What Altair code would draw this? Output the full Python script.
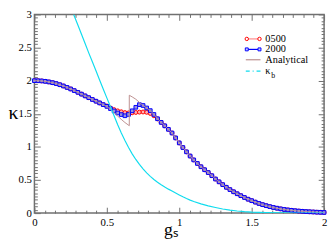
import altair as alt
import pandas as pd

FONT = "Liberation Serif"

# ---------------- data ----------------
g = [round(0.025 * i, 3) for i in range(81)]

k2000 = [2.000, 1.999, 1.996, 1.990, 1.981, 1.970, 1.956, 1.939, 1.920, 1.898,
         1.875, 1.850, 1.824, 1.797, 1.770, 1.743, 1.716, 1.690, 1.664, 1.638,
         1.612, 1.578, 1.543, 1.512, 1.488, 1.470, 1.490, 1.545, 1.598, 1.638,
         1.625, 1.588, 1.548, 1.490, 1.425, 1.370, 1.318, 1.265, 1.210, 1.135,
         1.060, 0.990, 0.925, 0.862, 0.803, 0.750, 0.700, 0.655, 0.612, 0.565,
         0.515, 0.472, 0.430, 0.390, 0.355, 0.322, 0.292, 0.263, 0.236, 0.210,
         0.188, 0.166, 0.146, 0.128, 0.112, 0.098, 0.085, 0.074, 0.064, 0.055,
         0.048, 0.042, 0.036, 0.031, 0.027, 0.023, 0.020, 0.017, 0.014, 0.012,
         0.010]

k0500 = [2.000, 1.999, 1.996, 1.990, 1.981, 1.970, 1.956, 1.939, 1.920, 1.898,
         1.875, 1.850, 1.824, 1.797, 1.770, 1.743, 1.716, 1.690, 1.664, 1.638,
         1.618, 1.588, 1.563, 1.544, 1.530, 1.518, 1.513, 1.515, 1.520, 1.525,
         1.527, 1.522, 1.505, 1.470, 1.422, 1.370, 1.318, 1.265, 1.210, 1.135,
         1.060, 0.990, 0.925, 0.862, 0.803, 0.750, 0.700, 0.655, 0.612, 0.565,
         0.515, 0.472, 0.430, 0.390, 0.355, 0.322, 0.292, 0.263, 0.236, 0.210,
         0.188, 0.166, 0.146, 0.128, 0.112, 0.098, 0.085, 0.074, 0.064, 0.055,
         0.048, 0.042, 0.036, 0.031, 0.027, 0.023, 0.020, 0.017, 0.014, 0.012,
         0.010]

# analytical curve: same as numerics away from the jump at g ~ 0.655
an_mid_g = [0.525, 0.55, 0.575, 0.6, 0.625, 0.655, 0.655, 0.675, 0.7, 0.725, 0.75]
an_mid_k = [1.565, 1.515, 1.465, 1.415, 1.368, 1.320, 1.780, 1.755, 1.720, 1.672, 1.625]
an_g = g[:21] + an_mid_g + g[31:]
an_k = k2000[:21] + an_mid_k + k2000[31:]

kb_g = [0.271, 0.3, 0.325, 0.35, 0.375, 0.4, 0.425, 0.45, 0.475, 0.5,
        0.525, 0.55, 0.575, 0.6, 0.625, 0.65, 0.675, 0.7, 0.725, 0.75,
        0.775, 0.8, 0.825, 0.85, 0.875, 0.9, 0.925, 0.95, 0.975, 1.0,
        1.025, 1.05, 1.075, 1.1, 1.15, 1.2, 1.25, 1.3, 1.35, 1.4,
        1.45, 1.5, 1.6, 1.7, 1.8, 2.0]
kb_k = [3.0, 2.84, 2.70, 2.56, 2.42, 2.285, 2.15, 2.01, 1.875, 1.74,
        1.605, 1.47, 1.335, 1.21, 1.095, 0.99, 0.895, 0.81, 0.735, 0.668,
        0.608, 0.555, 0.508, 0.465, 0.428, 0.394, 0.362, 0.333, 0.303, 0.274,
        0.246, 0.22, 0.196, 0.175, 0.14, 0.11, 0.085, 0.062, 0.045, 0.032,
        0.022, 0.015, 0.007, 0.003, 0.0015, 0.0005]

legend_names = ["0500", "2000", "Analytical", "κ"]

X_TICKS = [round(i * 0.5 / 7, 5) for i in range(29)]
Y_TICKS = [round(i * 0.05, 3) for i in range(61)]
X_MAJOR = [0, 0.5, 1, 1.5, 2]
Y_MAJOR = [0, 0.5, 1, 1.5, 2, 2.5, 3]

# ---------------- frames ----------------
df500 = pd.DataFrame({"g": g, "k": k0500})
df2000 = pd.DataFrame({"g": g, "k": k2000})
dfan = pd.DataFrame({"g": an_g, "k": an_k, "i": list(range(len(an_g)))})
dfkb = pd.DataFrame({"g": kb_g, "k": kb_k})
one = pd.DataFrame({"z": [0]})

W, H = 296, 203
xs = alt.Scale(domain=[0, 2], nice=False, zero=False)
ys = alt.Scale(domain=[0, 3], nice=False, zero=False)
MAJOR = "abs(datum.value*2 - round(datum.value*2)) < 0.001"
TICK = "#707070"


def X(axis):
    return alt.X("g:Q", scale=xs, axis=axis)


def Y(axis):
    return alt.Y("k:Q", scale=ys, axis=axis)


def tick_axis(orient, values, off):
    return alt.Axis(orient=orient, values=values, labels=False, domain=False,
                    grid=False, ticks=True, tickColor=TICK, tickWidth=1,
                    tickSize={"condition": {"test": MAJOR, "value": 6}, "value": 3},
                    offset=off, title=None)


x_lab = alt.Axis(orient="bottom", values=X_MAJOR, ticks=False, domain=False, grid=False,
                 labelFont=FONT, labelFontSize=11, labelColor="black", labelPadding=4,
                 labelFlush=False, format="~g",
                 title="gₛ", titleFont=FONT, titleFontSize=18, titleFontWeight="normal",
                 titleColor="black", titleX=139, titleY=22, titleAlign="center",
                 titleBaseline="alphabetic")
y_lab = alt.Axis(orient="left", values=Y_MAJOR, ticks=False, domain=False, grid=False,
                 labelFont=FONT, labelFontSize=11, labelColor="black", labelPadding=3,
                 labelFlush=False, format="~g",
                 title="κ", titleFont=FONT, titleFontSize=20, titleFontWeight="normal",
                 titleColor="black", titleAngle=0, titleX=-22, titleY=106,
                 titleAlign="center", titleBaseline="alphabetic")

red_line = alt.Chart(df500).mark_line(color="#ff8a8a", strokeWidth=1).encode(
    x=X(x_lab), y=Y(y_lab))
red_pts = alt.Chart(df500).mark_point(shape="circle", size=16, filled=True, fill="#ffb4b4",
                                      stroke="#ff0000", strokeWidth=1, opacity=1).encode(
    x=X(None), y=Y(None))
blue_line = alt.Chart(df2000).mark_line(color="#0000ff", strokeWidth=1).encode(
    x=X(tick_axis("bottom", X_TICKS, -H)), y=Y(tick_axis("left", Y_TICKS, -W)))
blue_pts = alt.Chart(df2000).mark_point(shape="square", size=14, filled=True, fill="#9a90d8",
                                        stroke="#0000ff", strokeWidth=1, opacity=1).encode(
    x=X(None), y=Y(None))
an_line = alt.Chart(dfan).mark_line(color="#bc8f8f", strokeWidth=1).encode(
    x=X(tick_axis("top", X_TICKS, -H)), y=Y(tick_axis("right", Y_TICKS, -W)),
    order="i:Q")
kb_line = alt.Chart(dfkb).mark_line(color="#10dcee", strokeWidth=1.2, clip=True).encode(
    x=X(None), y=Y(None))

# ---------------- legend ----------------
LX0, LX1, LTX = 216, 231, 236
ROWS = [25, 35.7, 46.3, 58]
leg = []
cols = ["#ff8a8a", "#0000ff", "#bc8f8f", "#10dcee"]
for i, (name, c) in enumerate(zip(legend_names, cols)):
    yv = ROWS[i]
    rule_kw = dict(color=c, strokeWidth=1.2)
    if i == 3:
        rule_kw["strokeDash"] = [4, 3, 1, 3]
    leg.append(alt.Chart(one).mark_rule(**rule_kw).encode(
        x=alt.value(LX0), x2=alt.value(LX1), y=alt.value(yv)))
    leg.append(alt.Chart(one).mark_text(text=name, font=FONT, fontSize=10.5, align="left",
                                        baseline="middle", color="black").encode(
        x=alt.value(LTX), y=alt.value(yv)))
for xv in (LX0 + 1, LX1 - 1):
    leg.append(alt.Chart(one).mark_point(shape="circle", size=12, filled=True, fill="white",
                                         stroke="#ff0000", strokeWidth=1, opacity=1).encode(
        x=alt.value(xv), y=alt.value(ROWS[0])))
    leg.append(alt.Chart(one).mark_point(shape="square", size=9, filled=True, fill="#c8c8ff",
                                         stroke="#0000ff", strokeWidth=1, opacity=1).encode(
        x=alt.value(xv), y=alt.value(ROWS[1])))
leg.append(alt.Chart(one).mark_text(text="b", font=FONT, fontSize=8, align="left",
                                    baseline="middle", color="black").encode(
    x=alt.value(LTX + 6), y=alt.value(ROWS[3] + 5)))

chart = alt.layer(red_line, red_pts, blue_line, blue_pts, an_line, kb_line, *leg).resolve_axis(
    x="independent", y="independent"
).properties(
    width=W, height=H,
    autosize=alt.AutoSizeParams(type="none"),
    padding={"left": 27, "top": 4, "right": 4, "bottom": 30},
    background="white",
).configure_view(stroke="#707070", strokeWidth=1.5)

chart.save("out.html", embed_options={"renderer": "svg", "actions": False})
